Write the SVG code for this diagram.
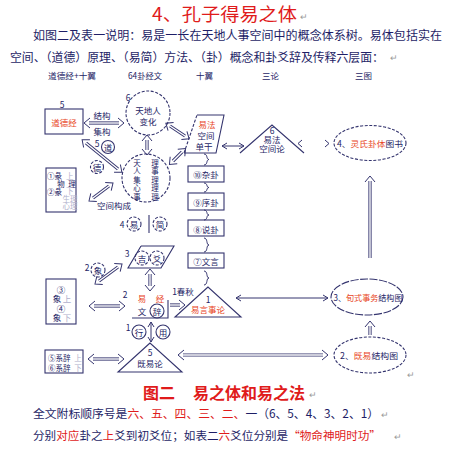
<svg xmlns="http://www.w3.org/2000/svg" width="450" height="450" viewBox="0 0 450 450">
<defs>
<style>
text{font-family:"Noto Sans CJK SC","Noto Sans",sans-serif;fill:#1e1e66}
.s{font-size:8.5px;text-anchor:middle;dominant-baseline:central}
.v{font-size:7.5px;text-anchor:middle;dominant-baseline:central}
.l{font-size:7.5px;dominant-baseline:central}
.h{font-size:8.5px}
.o{fill:#e8461e}
.R{fill:#e01b1b}
.g{fill:#b0b0cc}
.pm{fill:#9a9a9a;font-size:9px}
.ln{fill:none;stroke:#34346e;stroke-width:1.1}
.ds{stroke-dasharray:3 1.6}
.d{fill:none;stroke:#34346e;stroke-width:3.2}
.di{fill:none;stroke:#fff;stroke-width:1.4}
.a{fill:none;stroke:#34346e;stroke-width:1}
</style>
<marker id="h" markerUnits="userSpaceOnUse" markerWidth="10" markerHeight="12" refX="2" refY="6" orient="auto-start-reverse"><path d="M1,1 L7,6 L1,11" fill="none" stroke="#34346e" stroke-width="1"/></marker>
<marker id="s" markerUnits="userSpaceOnUse" markerWidth="8" markerHeight="8" refX="6" refY="4" orient="auto-start-reverse"><path d="M1,1 L6,4 L1,7" fill="none" stroke="#34346e" stroke-width="1"/></marker>
</defs>
<rect width="450" height="450" fill="#fff"/>

<g id="header">
<text x="152" y="21" font-size="18" textLength="145" lengthAdjust="spacingAndGlyphs" class="R">4、孔子得易之体</text>
<text x="300" y="20" class="pm">↵</text>
<text x="33" y="40" font-size="12" textLength="409" lengthAdjust="spacingAndGlyphs">如图二及表一说明：易是一长在天地人事空间中的概念体系树。易体包括实在</text>
<text x="10" y="61.5" font-size="12" textLength="374" lengthAdjust="spacingAndGlyphs">空间、（道德）原理、（易简）方法、（卦）概念和卦爻辞及传释六层面：</text>
<text x="390" y="61" class="pm">↵</text>
<text x="48" y="79" class="h" textLength="48" lengthAdjust="spacingAndGlyphs">道德经+十翼</text>
<text x="128" y="79" class="h" textLength="34" lengthAdjust="spacingAndGlyphs">64卦经文</text>
<text x="196" y="79" class="h">十翼</text>
<text x="262" y="79" class="h">三论</text>
<text x="355" y="79" class="h">三图</text>
</g>

<g id="connectors">
<path class="d" d="M89,123H119" marker-start="url(#h)" marker-end="url(#h)"/><path class="di" d="M89,123H119"/>
<path class="d" d="M86,143L118,169" marker-start="url(#h)" marker-end="url(#h)"/><path class="di" d="M86,143L118,169"/>
<path class="d" d="M93,198L109,186" marker-start="url(#h)" marker-end="url(#h)"/><path class="di" d="M93,198L109,186"/>
<path class="d" d="M147,140V150" marker-start="url(#h)" marker-end="url(#h)"/><path class="di" d="M147,140V150"/>
<path class="d" d="M170,126L185,136" marker-start="url(#h)" marker-end="url(#h)"/><path class="di" d="M170,126L185,136"/>
<path class="d" d="M173,161L182,152" marker-start="url(#h)" marker-end="url(#h)"/><path class="di" d="M173,161L182,152"/>
<path class="d" d="M94,306H120" marker-start="url(#h)" marker-end="url(#h)"/><path class="di" d="M94,306H120"/>
<path class="d" d="M99,281L118,267" marker-start="url(#h)" marker-end="url(#h)"/><path class="di" d="M99,281L118,267"/>
<path class="d" d="M150,274V286" marker-start="url(#h)" marker-end="url(#h)"/><path class="di" d="M150,274V286"/>
<path class="d" d="M93,359H119" marker-start="url(#h)" marker-end="url(#h)"/><path class="di" d="M93,359H119"/>
<path class="d" d="M183,355H323" marker-start="url(#h)" marker-end="url(#h)"/><path class="di" d="M183,355H323"/>
<path class="d" d="M370,335V326" marker-end="url(#h)"/><path class="di" d="M370,335V326"/>
<path class="d" d="M370,258V181" marker-end="url(#h)"/><path class="di" d="M370,258V181"/>
<path class="d" d="M170,305H180" marker-end="url(#h)"/><path class="di" d="M170,305H180"/>
<path class="a" d="M222,146H244" marker-start="url(#s)" marker-end="url(#s)"/>
<path class="a" d="M236,298H328" marker-start="url(#s)" marker-end="url(#s)"/>
<path class="a" d="M151,322V342" marker-start="url(#s)" marker-end="url(#s)"/>
<path class="a" d="M302,140L298,143.5L302,147M325,140L329,143.5L325,147"/>
<path class="a" stroke-width="1.2" d="M204,154C208,154 206,159.5 209,159.5C206,159.5 208,165 204,165"/>
<path class="a" stroke-width="1.2" d="M204,183C208,183 206,187.5 209,187.5C206,187.5 208,192 204,192"/>
<path class="a" stroke-width="1.2" d="M204,210C208,210 206,215 209,215C206,215 208,220 204,220"/>
<path class="a" stroke-width="1.2" d="M204,238C208,238 206,245 209,245C206,245 208,252 204,252"/>
<path class="a" stroke-width="1.2" d="M204,271C208,271 206,278 209,278C206,278 208,285 204,285"/>
</g>

<g id="n-daodejing"><rect x="45" y="109" width="38" height="25" class="ln" stroke-width="1.3"/><text class="s" x="62" y="104">5</text><text class="s o" x="64" y="122">道德经</text></g>
<g id="n-labels-jiegou"><text class="s" x="102" y="115">结构</text><text class="s" x="102" y="131">集构</text></g>
<g id="n-tiandiren"><circle cx="148" cy="113" r="22" class="ln ds"/><text class="s" x="128" y="97">6</text><text class="s" x="148" y="110">天地人</text><text class="s" x="148" y="121">变化</text></g>
<g id="n-tianren"><circle cx="146" cy="178" r="24" class="ln ds"/>
<text class="v" x="137" y="162">天</text><text class="v" x="137" y="170.5">人</text><text class="v" x="137" y="179">集</text><text class="v" x="137" y="187.5">心</text><text class="v" x="137" y="196">事</text>
<text class="v" x="155" y="162">理</text><text class="v" x="155" y="170.5">事</text><text class="v" x="155" y="179">理</text><text class="v" x="155" y="187.5">理</text><text class="v" x="155" y="196">理</text></g>
<g id="n-dao"><text class="s" x="97" y="143">5</text><circle cx="108" cy="147" r="6.5" class="ln"/><text class="s" x="108" y="147">道</text></g>
<g id="n-de"><circle cx="97" cy="167" r="6.5" class="ln ds"/><text class="s" x="97" y="167">德</text></g>
<g id="n-kongjian"><text class="s" x="114" y="205">空间构成</text></g>
<g id="n-tuan"><rect x="46" y="168" width="30" height="44" class="ln"/>
<text class="l" x="47" y="175">①彖</text><text class="l g" x="66" y="175">上</text>
<text class="v" x="61" y="183">物</text><text class="v" x="72" y="183">理</text>
<text class="l" x="47" y="191">②彖</text><text class="l g" x="66" y="190.5" font-size="6.5">下</text>
<text class="v g" x="70" y="198" font-size="6">生理</text><text class="v g" x="70" y="205.5" font-size="6">心理</text></g>

<g id="n-yifa"><path class="ln" d="M197,115H224L216,153H184"/><path class="ln ds" d="M184,153L197,115"/>
<text class="s o" x="207" y="124">易法</text><text class="s" x="206" y="135">空间</text><text class="s" x="204" y="146">单干</text></g>
<g id="n-yifalun"><path class="ln" d="M240,153L272,125L304,153"/><text class="s" x="272" y="130" font-size="7.5">6</text><text class="s" x="272" y="139" font-size="8">易法</text><text class="s" x="272" y="148" font-size="8">空间论</text></g>
<g id="n-e4"><ellipse cx="370" cy="143" rx="36" ry="17.5" class="ln ds" stroke-width="1.2"/><text class="s" x="370" y="143" font-size="8.8" textLength="66" lengthAdjust="spacingAndGlyphs">4、<tspan class="o">灵氏卦体</tspan>图书</text></g>
<g id="n-zagua"><rect x="188" y="166" width="36" height="16" class="ln"/><text class="s" x="206" y="174">⑩杂卦</text></g>
<g id="n-xugua"><rect x="188" y="193" width="36" height="17" class="ln"/><text class="s" x="206" y="202">⑨序卦</text></g>
<g id="n-shuogua"><rect x="188" y="220" width="36" height="16" class="ln"/><text class="s" x="206" y="229">⑧说卦</text></g>
<g id="n-wenyan"><rect x="188" y="253" width="36" height="15" class="ln"/><text class="s" x="206" y="261">⑦文言</text></g>
<g id="n-yijian"><text class="s" x="122" y="224">4</text><circle cx="134" cy="224" r="7" class="ln ds"/><text class="s" x="134" y="224">易</text><path class="ln" d="M149,215V233"/><circle cx="160" cy="224" r="7" class="ln ds"/><text class="s" x="160" y="224">简</text></g>
<g id="n-jiyao"><path class="ln" d="M141,246H174L161,268H128L141,246"/><text class="s" x="127" y="253">3</text><circle cx="142" cy="258" r="7" class="ln ds"/><text class="s" x="142" y="258">吉</text><circle cx="157" cy="258" r="7" class="ln ds"/><text class="s" x="157" y="258">爻</text></g>
<g id="n-xiang-c"><text class="s" x="87" y="267">2</text><circle cx="98" cy="270" r="7" class="ln ds"/><text class="s" x="98" y="270">象</text></g>
<g id="n-xiang"><rect x="46" y="279" width="30" height="45" class="ln"/>
<text class="s" x="61" y="289">③</text><text class="s" x="57" y="298">象</text><text class="s g" x="67" y="298">上</text>
<text class="s" x="61" y="308">④</text><text class="s" x="57" y="317">象</text><text class="s g" x="67" y="317">下</text></g>
<g id="n-yijing"><path class="ln" d="M132,318H168V300"/><text class="s" x="125" y="294">2</text><text class="s o" x="142" y="298">易</text><text class="s o" x="160" y="298">经</text><text class="s" x="142" y="311">文</text><circle cx="157" cy="311" r="7" class="ln"/><text class="s" x="157" y="311">辞</text></g>
<g id="n-chunqiu"><text class="s" x="183" y="291">1春秋</text></g>
<g id="n-yiyan"><path class="ln" d="M208,287L175,317H241Z"/><text class="s" x="208" y="299">1</text><text class="s o" x="208" y="309">易言事论</text></g>
<g id="n-e3"><ellipse cx="367" cy="297" rx="36" ry="18" class="ln" stroke-dasharray="8 1.5" stroke-width="1.2"/><text class="s" x="368" y="297" textLength="69" lengthAdjust="spacingAndGlyphs">3、<tspan class="o">旬式事务</tspan>结构图</text></g>
<g id="n-xingyong"><text class="s" x="128" y="327">1</text><circle cx="139" cy="332" r="7" class="ln"/><text class="s" x="139" y="332">行</text><circle cx="163" cy="332" r="7" class="ln"/><text class="s" x="163" y="332">用</text></g>
<g id="n-xici"><rect x="45" y="350" width="38" height="23" class="ln"/>
<text class="l" x="48" y="357">⑤系辞</text><text class="v g" x="78" y="357">上</text>
<text class="l" x="48" y="367">⑥系辞</text><text class="v g" x="78" y="367">下</text></g>
<g id="n-jiyilun"><path class="ln" d="M150,343L118,372H182Z"/><text class="s" x="150" y="352">5</text><text class="s" x="150" y="363">既易论</text></g>
<g id="n-e2"><ellipse cx="370" cy="355" rx="36" ry="18" class="ln ds" stroke-width="1.2"/><text class="s" x="369" y="355" font-size="9" textLength="58" lengthAdjust="spacingAndGlyphs">2、<tspan class="o">既易</tspan>结构图</text><text x="407" y="378" class="pm">↵</text></g>

<g id="caption">
<text x="143" y="399" font-size="16" font-weight="bold" class="R">图二<tspan x="193">易之体和易之法</tspan></text>
<text x="309" y="398" class="pm">↵</text>
<text x="33" y="418" font-size="11.8">全文附标顺序号是<tspan class="R">六、五、四、三、二、</tspan>一（6、5、4、3、2、1）</text>
<text x="381" y="418" class="pm">↵</text>
<text x="33" y="440" font-size="11.6">分别<tspan class="R">对应</tspan>卦之<tspan class="R">上</tspan>爻到初爻位；如表二<tspan class="R">六</tspan>爻位分别是<tspan class="R">“物命神明时功”</tspan></text>
<text x="394" y="440" class="pm">↵</text>
</g>
</svg>
